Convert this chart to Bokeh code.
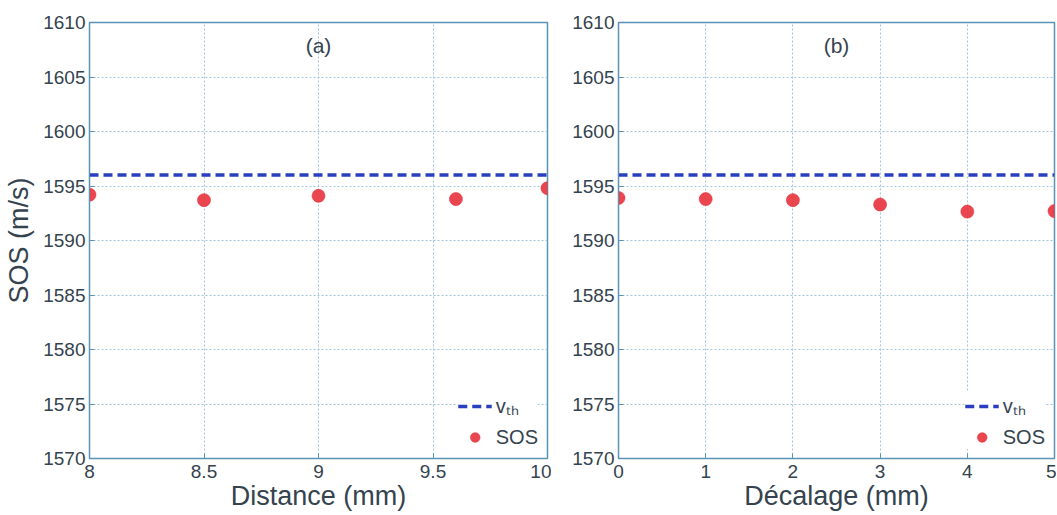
from bokeh.plotting import figure
from bokeh.models import (Range1d, FixedTicker, Legend, LegendItem, Label)
from bokeh.layouts import row
from bokeh.embed import file_html
from bokeh.resources import INLINE

# ---- data ----
dist_a = [8.0, 8.5, 9.0, 9.6, 10.0]
sos_a = [1594.2, 1593.7, 1594.1, 1593.8, 1594.8]
dec_b = [0, 1, 2, 3, 4, 5]
sos_b = [1593.9, 1593.8, 1593.7, 1593.3, 1592.65, 1592.7]
v_th = 1596.0
yticks = [1570, 1575, 1580, 1585, 1590, 1595, 1600, 1605, 1610]
xticks_a = [8, 8.5, 9, 9.5, 10]
xticks_b = [0, 1, 2, 3, 4, 5]

FONT = "Liberation Sans"
TXT = "#34434e"
FRAME = "#5a93b3"
GRID = "#a3c5da"
BLUE = "#2a3fbf"
RED = "#e8323c"


def make(xs, ys, xticks, xlabel, tag, width, bl, br, ylabel):
    p = figure(width=width, height=513, output_backend="svg", toolbar_location=None,
               x_range=Range1d(min(xticks), max(xticks)), y_range=Range1d(1570, 1610),
               min_border_left=bl, min_border_right=br, min_border_top=22,
               min_border_bottom=48)
    p.outline_line_color = FRAME
    p.outline_line_width = 1.5
    p.background_fill_color = "white"
    p.border_fill_color = "white"
    for ax in (p.xaxis[0], p.yaxis[0]):
        ax.axis_line_color = FRAME
        ax.major_tick_line_color = FRAME
        ax.major_tick_in = 5
        ax.major_tick_out = 0
        ax.minor_tick_line_color = None
        ax.major_label_text_font = FONT
        ax.major_label_text_font_size = "19px"
        ax.major_label_text_color = TXT
        ax.axis_label_text_font = FONT
        ax.axis_label_text_font_style = "normal"
        ax.axis_label_text_color = TXT
        ax.axis_label_text_font_size = "27px"
    p.xaxis[0].ticker = FixedTicker(ticks=xticks)
    p.yaxis[0].ticker = FixedTicker(ticks=yticks)
    p.xaxis[0].major_label_standoff = 6
    p.yaxis[0].major_label_standoff = 4
    p.xaxis[0].axis_label = xlabel
    p.xaxis[0].axis_label_standoff = 0
    p.yaxis[0].axis_label = ylabel
    p.yaxis[0].axis_label_standoff = 6
    p.xgrid.ticker = FixedTicker(ticks=xticks)
    p.ygrid.ticker = FixedTicker(ticks=yticks)
    for g in (p.xgrid[0], p.ygrid[0]):
        g.grid_line_color = GRID
        g.grid_line_dash = "2 2"
        g.grid_line_width = 1

    r_line = p.line([min(xticks), max(xticks)], [v_th, v_th], line_color=BLUE,
                    line_width=3.5, line_dash="9 5")
    r_pts = p.scatter(xs, ys, size=13, fill_color=RED, line_color=RED, fill_alpha=0.9,
                      line_alpha=0.6)

    lab = Label(x=(min(xticks) + max(xticks)) / 2, y=1607.9, text=tag,
                text_font=FONT, text_font_size="21px", text_color=TXT,
                text_align="center", text_baseline="middle")
    p.add_layout(lab)

    leg = Legend(items=[LegendItem(label="v\u209c\u2095", renderers=[r_line]),
                        LegendItem(label="SOS", renderers=[r_pts])],
                 location="bottom_right", label_text_font=FONT,
                 label_text_font_size="20px", label_text_color=TXT,
                 glyph_width=34, glyph_height=24, label_standoff=4,
                 spacing=6, padding=5, margin=9,
                 border_line_color=None, background_fill_alpha=1.0)
    p.add_layout(leg)
    return p


pa = make(dist_a, sos_a, xticks_a, "Distance (mm)", "(a)", 551, 89, 4, "SOS (m/s)")
pb = make(dec_b, sos_b, xticks_b, "D\u00e9calage (mm)", "(b)", 505, 67, 2, "")

layout = row(pa, pb, spacing=0)
open("out.html", "w").write(file_html(layout, INLINE))
